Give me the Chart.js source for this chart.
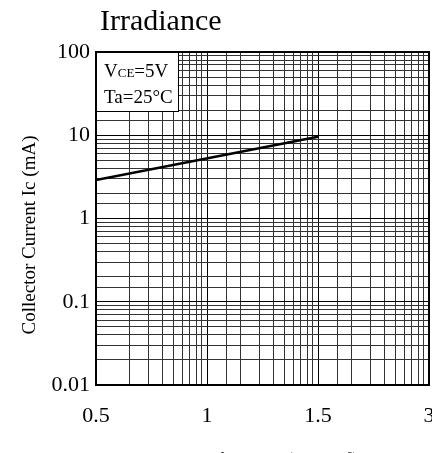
<!DOCTYPE html>
<html lang="en">
<head>
  <meta charset="UTF-8">
  <script src="https://cdn.jsdelivr.net/npm/chart.js"></script>
  <title>Irradiance</title>
  <style>
    html,body{margin:0; padding:0; background:#fff; overflow:hidden;}
    #wrap{width:432px; height:470px;}
  </style>
</head>
<body>
  <div id="wrap">
    <canvas id="myChart" width="432" height="470"></canvas>
  </div>
  <script>
    // tick labels (the x axis is spaced one log decade per label)
    const xTickLabels = ['0.5', '1', '1.5', '3'];
    const yTickLabels = ['0.01', '0.1', '1', '10', '100'];

    // curve: irradiance vs collector current
    const irradiance = ['0.5', '1.5'];
    const collectorCurrent = [2.9, 9.6];

    const serif = "'Liberation Serif', 'DejaVu Serif', serif";

    // x position on the decade-spaced axis
    const xPos = v => Math.pow(10, xTickLabels.indexOf(v));
    const points = irradiance.map((v, i) => ({ x: xPos(v), y: collectorCurrent[i] }));

    const isDecade = v => Math.abs(Math.log10(v) - Math.round(Math.log10(v))) < 1e-9;

    // titles, inset box and frame
    const decor = {
      id: 'decor',
      afterDraw(chart) {
        const c = chart.ctx;
        const a = chart.chartArea;
        c.save();
        // inset box
        c.fillStyle = '#fff';
        c.fillRect(a.left, a.top, 82, 59);
        c.strokeStyle = '#000';
        c.lineWidth = 1;
        c.strokeRect(a.left + 0.5, a.top + 0.5, 82, 59);
        c.fillStyle = '#000';
        c.textBaseline = 'alphabetic';
        c.textAlign = 'left';
        c.font = '19px ' + serif;
        let x = a.left + 8;
        c.fillText('V', x, 77);
        x += c.measureText('V').width;
        c.font = '13px ' + serif;
        c.fillText('CE', x, 77);
        x += c.measureText('CE').width;
        c.font = '19px ' + serif;
        c.fillText('=5V', x, 77);
        c.fillText('Ta=25\u00B0C', a.left + 8, 103);
        // frame
        c.lineWidth = 2;
        c.strokeRect(a.left, a.top, a.right - a.left, a.bottom - a.top);
        // chart title
        c.font = '30px ' + serif;
        c.fillText('Irradiance', 100, 30);
        // y title
        c.font = '19px ' + serif;
        c.save();
        c.translate(35, 235);
        c.rotate(-Math.PI / 2);
        c.textAlign = 'center';
        c.fillText('Collector Current Ic (mA)', 0, 0);
        c.restore();
        // x title (mostly below the window)
        c.font = '17px ' + serif;
        c.textAlign = 'center';
        c.fillText('Irradiance Ee (mW/cm\u00B2)', 275, 464);
        c.restore();
      }
    };

    const gridColor = ctx => (ctx.tick && isDecade(ctx.tick.value)) ? '#000' : '#333';

    new Chart(document.getElementById('myChart'), {
      type: 'line',
      data: {
        datasets: [{
          data: points,
          borderColor: '#000',
          borderWidth: 2.5,
          pointRadius: 0,
          tension: 0
        }]
      },
      options: {
        responsive: false,
        animation: false,
        layout: { padding: { left: 10, right: 3, top: 52, bottom: 40 } },
        plugins: { legend: { display: false }, tooltip: { enabled: false } },
        scales: {
          x: {
            type: 'logarithmic',
            min: 1,
            max: 1000,
            afterFit: s => { s.height = 45; s.paddingLeft = 0; s.paddingRight = 0; },
            border: { display: false },
            grid: { color: gridColor, lineWidth: 1, drawTicks: false },
            ticks: {
              autoSkip: false,
              maxRotation: 0,
              padding: 18,
              color: '#000',
              font: { family: serif, size: 22 },
              callback: v => isDecade(v) ? xTickLabels[Math.round(Math.log10(v))] : ''
            }
          },
          y: {
            type: 'logarithmic',
            min: 0.01,
            max: 100,
            afterFit: s => { s.width = 86; s.paddingTop = 0; s.paddingBottom = 0; },
            border: { display: false },
            grid: { color: gridColor, lineWidth: 1, drawTicks: false },
            ticks: {
              autoSkip: false,
              padding: 6,
              color: '#000',
              font: { family: serif, size: 22 },
              callback: v => isDecade(v) ? yTickLabels[Math.round(Math.log10(v)) + 2] : ''
            }
          }
        }
      },
      plugins: [decor]
    });
  </script>
</body>
</html>
